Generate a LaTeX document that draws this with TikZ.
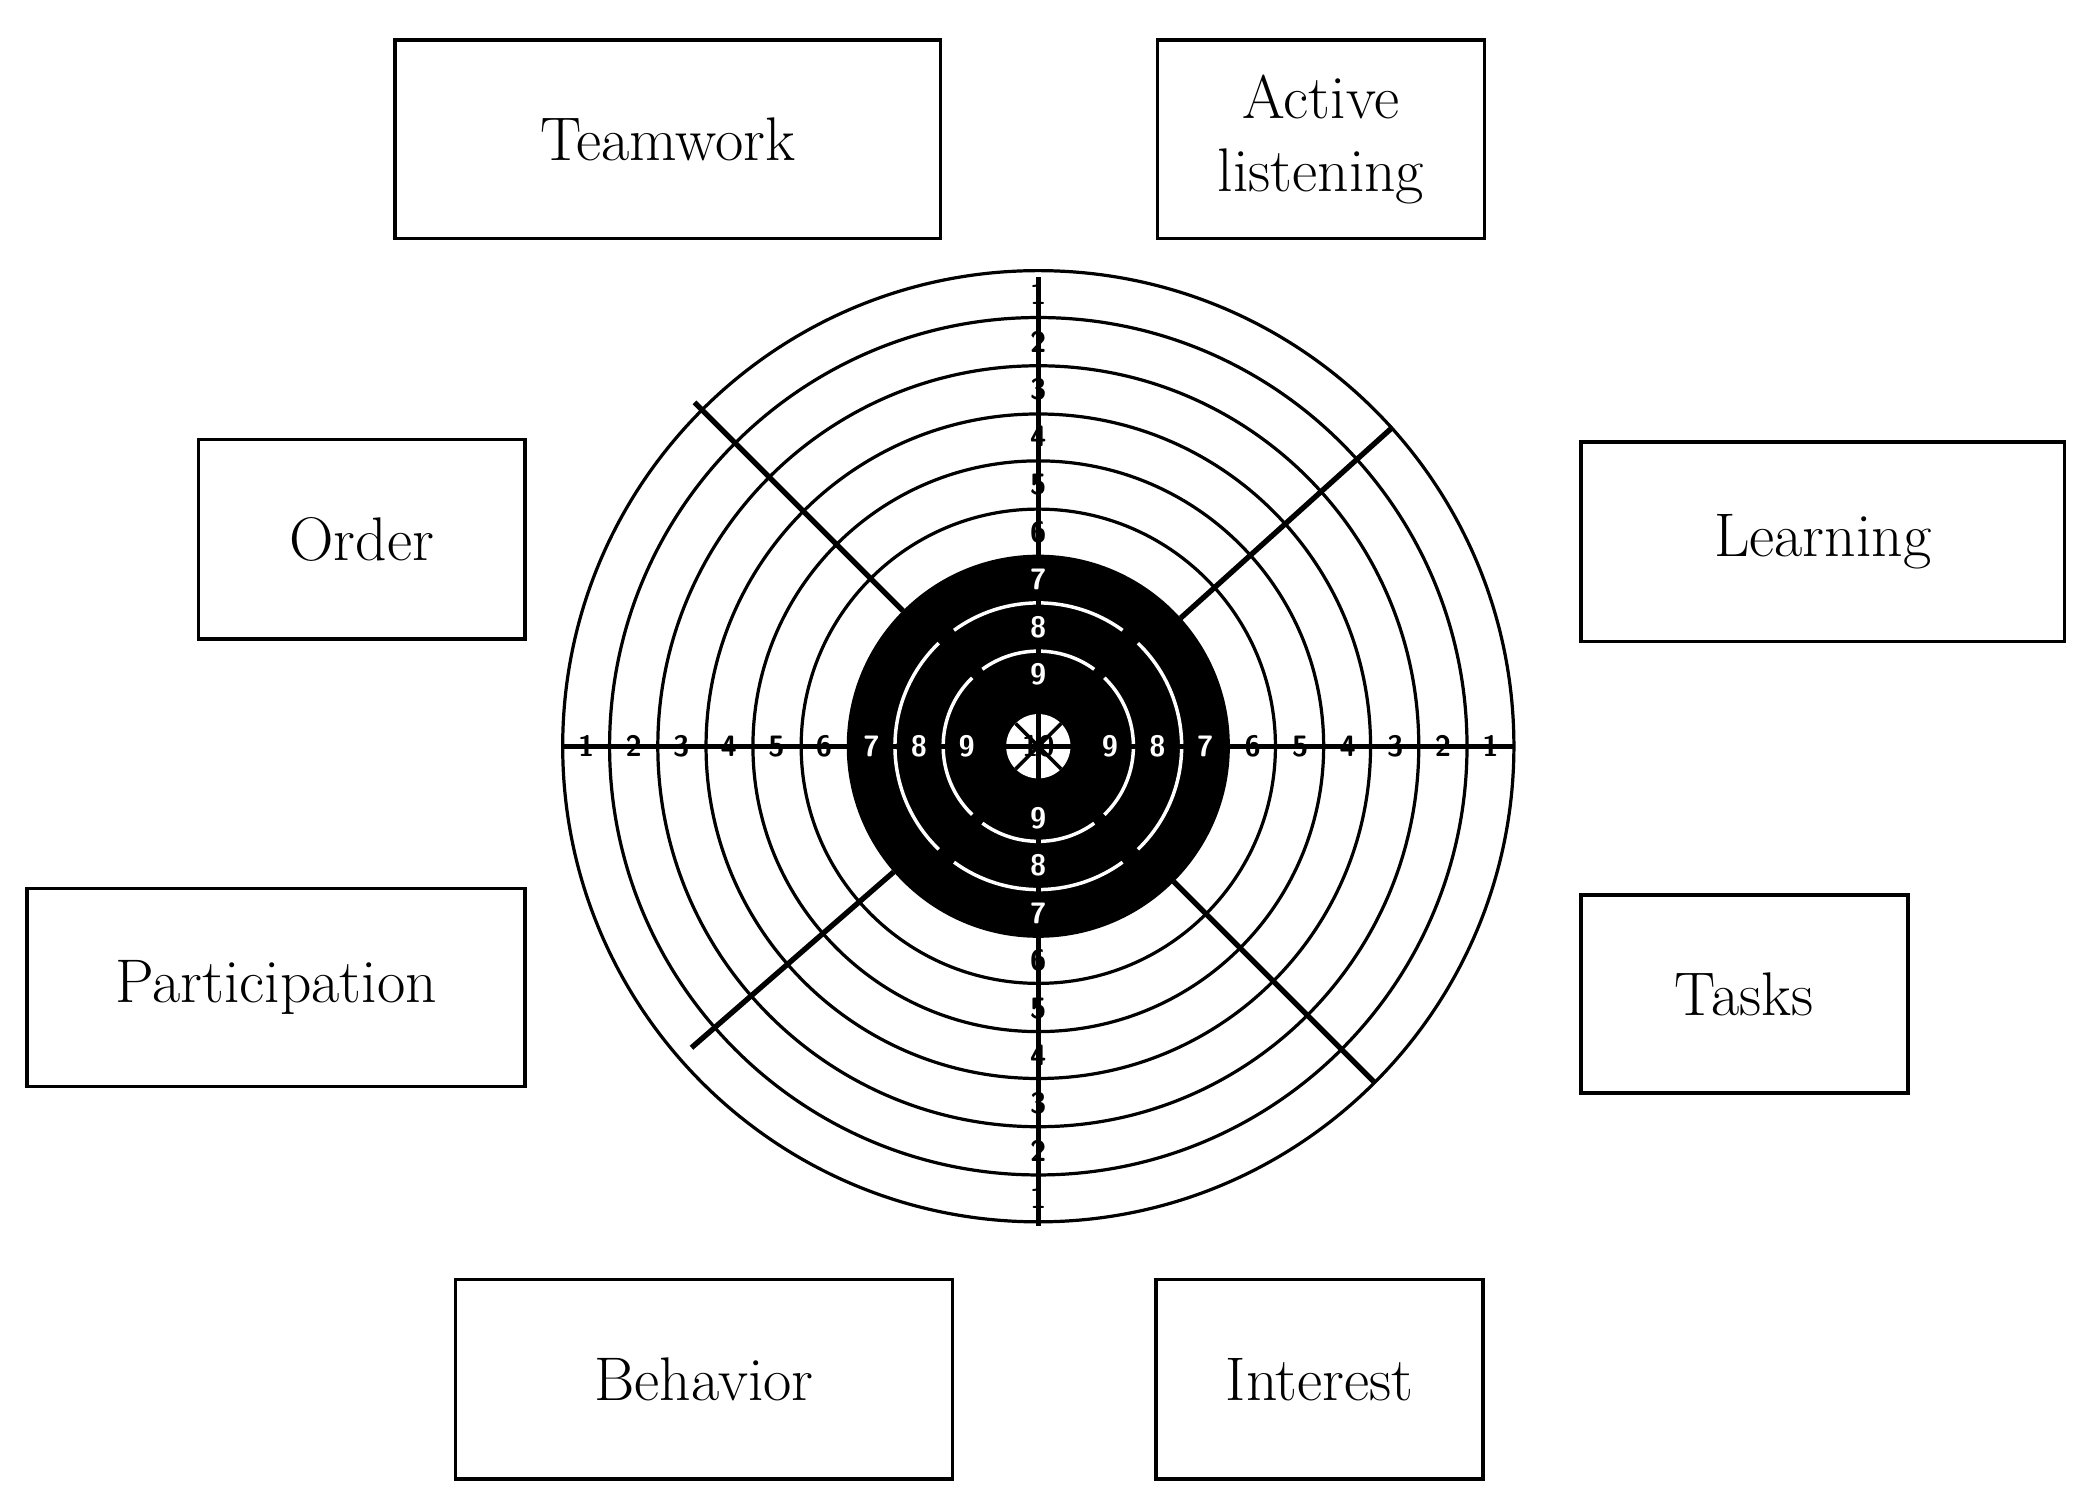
\documentclass[tikz,border=0pt]{standalone}
\usetikzlibrary{calc}
\begin{document}
\begin{tikzpicture}[x=0.5pt,y=-0.5pt,
 box/.style={draw,line width=1.3pt,inner sep=0pt,font=\fontsize{23}{27}\selectfont,align=center},
 ring/.style={line width=1.2pt},
 num/.style={font=\sffamily\bfseries\fontsize{11}{11}\selectfont,inner sep=0pt},
 ax/.style={line width=2pt}]
\useasboundingbox (0,0) rectangle (1560,1124);
\coordinate (c) at (775,557);
% rings
\foreach \r in {355,320,284,248,213,177} \draw[ring] (c) circle (\r);
\fill (c) circle (143);
\fill[white] (c) circle (24);
\foreach \r in {107,71}{
 \foreach \a/\b in {-46/46,54/126,134/226,234/306}
  \draw[white,line width=1.3pt] ($(c)+(\a:\r)$) arc[start angle=\a,end angle=\b,radius=\r];
}
% diagonals
\foreach \a/\r in {45/354,139/343,-135/363,-42/356}{
 \coordinate (p\a) at ($(c)+(\a:143)$);
 \coordinate (q\a) at ($(c)+(\a:\r)$);
 \draw[ax] (p\a) -- (q\a);
}
\draw[line width=1.3pt] ($(c)+(45:24)$) -- ($(c)+(225:24)$) ($(c)+(135:24)$) -- ($(c)+(-45:24)$);
% axes
\coordinate (l) at (420,557); \coordinate (rr) at (1130,557);
\coordinate (t) at (775,207); \coordinate (b) at (775,915);
\draw[ax] (l) -- (rr);
\draw[ax] (t) -- (b);
\foreach \k in {1,...,9}{
 \pgfmathsetmacro{\d}{337.5-35.5*(\k-1)}
 \ifnum\k>6 \def\col{white}\else\def\col{black}\fi
 \node[num,text=\col] (nl\k) at ($(c)+(-\d,0)$) {\k};
 \node[num,text=\col] (nr\k) at ($(c)+(\d,0)$) {\k};
 \node[num,text=\col] (nt\k) at ($(c)+(0,-\d)$) {\k};
 \node[num,text=\col] (nb\k) at ($(c)+(0,\d)$) {\k};
}
\node[num] (n10) at (c) {10};
% boxes (sizes in pt = half of picture units)
\node[box,minimum width=203.5pt,minimum height=74pt] (teamwork) at (498.5,104) {Teamwork};
\node[box,minimum width=122pt,minimum height=74pt] (active) at (986,104) {Active\\listening};
\node[box,minimum width=122pt,minimum height=74.5pt] (order) at (270,402.5) {Order};
\node[box,minimum width=180.5pt,minimum height=74.5pt] (learning) at (1360.5,404.5) {Learning};
\node[box,minimum width=186pt,minimum height=74pt] (particip) at (206,737) {Participation};
\node[box,minimum width=122pt,minimum height=74pt] (tasks) at (1302,742) {Tasks};
\node[box,minimum width=185.5pt,minimum height=74.5pt] (behavior) at (525.5,1029.5) {Behavior};
\node[box,minimum width=122pt,minimum height=74.5pt] (interest) at (985,1029.5) {Interest};
\end{tikzpicture}
\end{document}
